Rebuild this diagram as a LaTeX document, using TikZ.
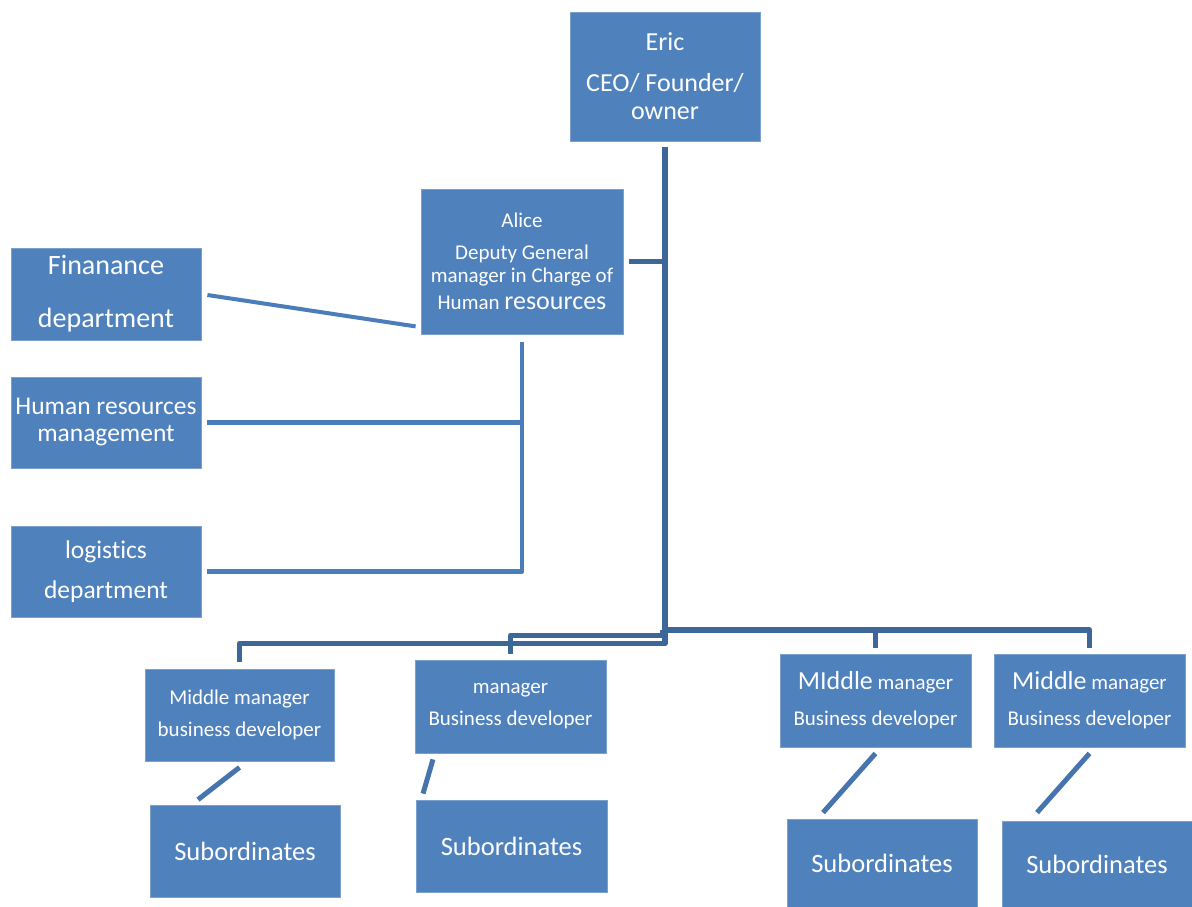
\documentclass[tikz,border=0pt]{standalone}
\usepackage{fontspec}
\setmainfont{Carlito}[Ligatures=NoCommon]
\usetikzlibrary{calc}
\definecolor{boxblue}{HTML}{4F81BD}
\definecolor{trunkblue}{HTML}{3E6799}
\definecolor{sideblue}{HTML}{4A7DB9}
\definecolor{subblue}{HTML}{4675AE}
\begin{document}
\begin{tikzpicture}[x=1pt,y=-1pt,
  orgbox/.style={rectangle, fill=boxblue, draw=boxblue!75!white, line width=0.8pt, text=white, inner sep=0pt, align=center},
  trunk/.style={draw=trunkblue, line width=5.5pt, line join=round},
  side/.style={draw=sideblue, line width=4.5pt, line join=round},
  subline/.style={draw=subblue, line width=5pt}]
\useasboundingbox (0,0) rectangle (1192,907);
\fill[white] (0,0) rectangle (1192,907);
% boxes
\node[orgbox, minimum width=190pt, minimum height=129pt, font=\fontsize{26}{28}\selectfont] (eric) at (665,76.5) {Eric\\[13pt]CEO/ Founder/\\owner};
\node[orgbox, minimum width=202pt, minimum height=145pt, font=\fontsize{21}{23}\selectfont] (alice) at (522,261.5) {Alice\\[9pt]Deputy General\\manager in Charge of\\[4pt]Human {\fontsize{26}{23}\selectfont resources}};
\node[orgbox, minimum width=190pt, minimum height=92pt, font=\fontsize{28}{28}\selectfont] (fin) at (106,294) {Finanance\\[25pt]department};
\node[orgbox, minimum width=190pt, minimum height=91pt, font=\fontsize{25.5}{27}\selectfont] (hr) at (106,422.5) {Human resources\\management};
\node[orgbox, minimum width=190pt, minimum height=91pt, font=\fontsize{25.5}{27}\selectfont] (log) at (106,571.5) {logistics\\[13pt]department};
\node[orgbox, minimum width=189pt, minimum height=92pt, font=\fontsize{21}{23}\selectfont] (mm1) at (239.5,715) {Middle manager\\[9pt]business developer};
\node[orgbox, minimum width=191pt, minimum height=93pt, font=\fontsize{21}{23}\selectfont] (mgr) at (510.5,706.5) {manager\\[9pt]Business developer};
\node[orgbox, minimum width=191pt, minimum height=93pt, font=\fontsize{21}{23}\selectfont] (mm3) at (875.5,700.5) {{\fontsize{26}{23}\selectfont MIddle} manager\\[13pt]Business developer};
\node[orgbox, minimum width=191pt, minimum height=93pt, font=\fontsize{21}{23}\selectfont] (mm4) at (1089.5,700.5) {{\fontsize{26}{23}\selectfont Middle} manager\\[13pt]Business developer};
\node[orgbox, minimum width=190pt, minimum height=92pt, font=\fontsize{26.5}{28}\selectfont] (sub1) at (245,851) {Subordinates};
\node[orgbox, minimum width=191pt, minimum height=92pt, font=\fontsize{26.5}{28}\selectfont] (sub2) at (511.5,846) {Subordinates};
\node[orgbox, minimum width=190pt, minimum height=88pt, font=\fontsize{26.5}{28}\selectfont] (sub3) at (882,863) {Subordinates};
\node[orgbox, minimum width=190pt, minimum height=86pt, font=\fontsize{26.5}{28}\selectfont] (sub4) at (1097,864) {Subordinates};
% junction points on the trunk
\coordinate (j1) at (665,630);
\coordinate (j2) at (663,630);
% trunk connectors
\draw[trunk] ([yshift=-6pt]eric.south) |- ([yshift=25pt]mm1.north) -- ([yshift=7pt]mm1.north);
\draw[trunk] (j2) |- ([yshift=24pt]mgr.north) -- ([yshift=6pt]mgr.north);
\draw[trunk] (j1) -| ([yshift=6pt]mm3.north);
\draw[trunk] (j1) -| ([yshift=6pt]mm4.north);
\draw[trunk] ([xshift=6pt]alice.east) -- (alice.east -| eric.south);
% Alice's departments
\draw[side] ([yshift=-8pt]alice.south) |- ([xshift=6pt]log.east);
\draw[side] ([xshift=6pt]hr.east) -- (hr.east -| alice.south);
\draw[side, line width=4pt] ([xshift=6pt,yshift=-1pt]fin.east) -- ([xshift=-5pt,yshift=8pt]alice.south west);
% subordinates
\draw[subline] ([yshift=-6pt]mm1.south) -- ([xshift=-47pt,yshift=5pt]sub1.north);
\draw[subline] ([xshift=-77.5pt,yshift=-6pt]mgr.south) -- ([xshift=-88.5pt,yshift=6pt]sub2.north);
\draw[subline] ([yshift=-6pt]mm3.south) -- ([xshift=-59pt,yshift=6pt]sub3.north);
\draw[subline] ([yshift=-6pt]mm4.south) -- ([xshift=-60pt,yshift=8pt]sub4.north);
\end{tikzpicture}
\end{document}
